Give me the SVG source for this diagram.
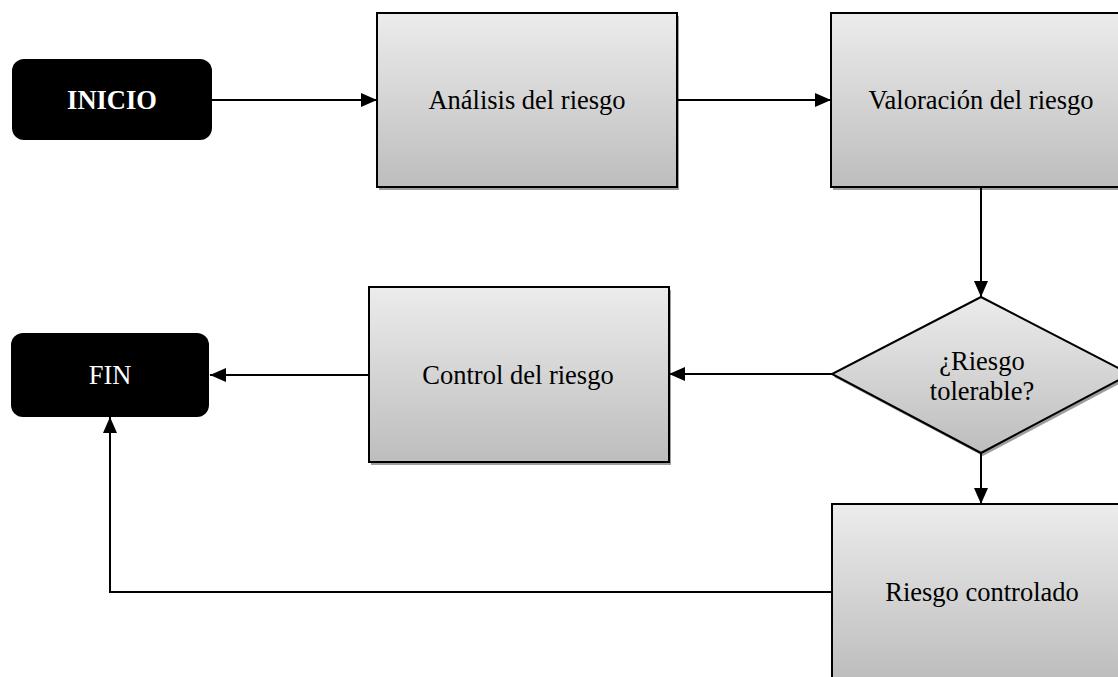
<svg xmlns="http://www.w3.org/2000/svg" width="1118" height="677" viewBox="0 0 1118 677">
<defs>
<linearGradient id="g" x1="0" y1="0" x2="0" y2="1">
<stop offset="0" stop-color="#ececec"/>
<stop offset="1" stop-color="#bdbdbd"/>
</linearGradient>
<marker id="arr" markerUnits="userSpaceOnUse" markerWidth="16" markerHeight="16" viewBox="0 0 16 16" refX="16" refY="8" orient="auto">
<path d="M0,1 L16,8 L0,15 Z" fill="#000"/>
</marker>
</defs>
<style>
.box{fill:url(#g);stroke:#000;stroke-width:2}
.sh{fill:#9e9e9e}
.term{fill:#000}
.t{font-family:"Liberation Serif","Times New Roman",serif;font-size:26.5px;text-anchor:middle;fill:#000}
.w{fill:#fff}
.b{font-weight:bold}
.c{fill:none;stroke:#000;stroke-width:2}
</style>
<rect width="1118" height="677" fill="#fff"/>
<g id="inicio">
<rect class="term" x="12" y="59" width="200" height="81" rx="12"/>
<text class="t w b" x="112" y="109">INICIO</text>
</g>
<g id="analisis">
<rect class="sh" x="379" y="16" width="300" height="174"/>
<rect class="box" x="377" y="13" width="300" height="174"/>
<text class="t" x="527" y="109">Análisis del riesgo</text>
</g>
<g id="valoracion">
<rect class="sh" x="833" y="16" width="300" height="174"/>
<rect class="box" x="831" y="13" width="300" height="174"/>
<text class="t" x="981" y="109">Valoración del riesgo</text>
</g>
<g id="decision">
<polygon class="sh" points="983,300 1132,377 983,456 834,377"/>
<polygon class="box" points="981,297 1130,374 981,453 832,374"/>
<text class="t" x="982" y="370">¿Riesgo</text>
<text class="t" x="982" y="400">tolerable?</text>
</g>
<g id="control">
<rect class="sh" x="371" y="290" width="300" height="175"/>
<rect class="box" x="369" y="287" width="300" height="175"/>
<text class="t" x="518" y="384">Control del riesgo</text>
</g>
<g id="fin">
<rect class="term" x="11" y="333" width="198" height="84" rx="12"/>
<text class="t w" x="110" y="384">FIN</text>
</g>
<g id="controlado">
<rect class="sh" x="834" y="507" width="300" height="176"/>
<rect class="box" x="832" y="504" width="300" height="176"/>
<text class="t" x="982" y="601">Riesgo controlado</text>
</g>
<g id="connectors">
<line class="c" x1="212" y1="100" x2="377" y2="100" marker-end="url(#arr)"/>
<line class="c" x1="677" y1="100" x2="831" y2="100" marker-end="url(#arr)"/>
<line class="c" x1="981" y1="187" x2="981" y2="297" marker-end="url(#arr)"/>
<line class="c" x1="832" y1="374" x2="669" y2="374" marker-end="url(#arr)"/>
<line class="c" x1="369" y1="375" x2="210" y2="375" marker-end="url(#arr)"/>
<line class="c" x1="981" y1="453" x2="981" y2="504" marker-end="url(#arr)"/>
<polyline class="c" points="832,592 110,592 110,417" marker-end="url(#arr)"/>
</g>
</svg>
